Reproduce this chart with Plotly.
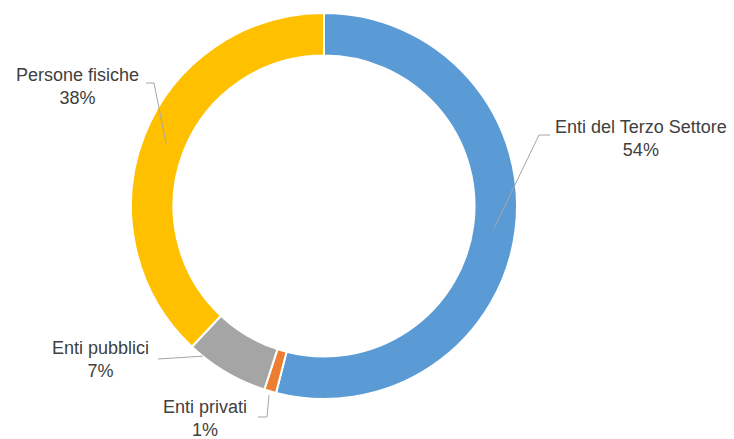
import math
import plotly.graph_objects as go

labels = ["Enti del Terzo Settore", "Enti privati", "Enti pubblici", "Persone fisiche"]
values = [54, 1, 7, 38]
pct_labels = ["54%", "1%", "7%", "38%"]
colors = ["#5B9BD5", "#ED7D31", "#A5A5A5", "#FFC000"]

W, H = 734, 439
cx, cy, R = 324, 206, 193
hole = 0.78

# label placement (pixel positions of text block centres, elbow, leader anchor)
text_pos = [(641, 138), (205, 418), (100, 359), (77, 86)]
line_start = [(550, 135), (258, 417), (158, 359), (146, 83)]
elbow = [(539, 135), (267, 417), None, (154, 83)]
anchor_frac = [0.5, 0.5, 0.83, 0.5]
anchor_rad = [0.89, 1.02, 1.0, 0.88]

def px(x):
    return x / W

def py(y):
    return 1 - y / H

fig = go.Figure(go.Pie(
    labels=labels, values=values, hole=hole, sort=False,
    direction="clockwise", rotation=0,
    marker=dict(colors=colors, line=dict(color="white", width=2)),
    textinfo="none", hoverinfo="label+percent",
    domain=dict(x=[px(cx - R), px(cx + R)], y=[py(cy + R), py(cy - R)]),
))

total = sum(values)
cum = 0
shapes = []
annotations = []
for i, v in enumerate(values):
    a0 = cum / total * 360
    a1 = (cum + v) / total * 360
    cum += v
    ang = math.radians(a0 + (a1 - a0) * anchor_frac[i])
    r = R * anchor_rad[i]
    ax_ = cx + r * math.sin(ang)
    ay_ = cy - r * math.cos(ang)
    pts = [line_start[i]]
    if elbow[i] is not None:
        pts.append(elbow[i])
    pts.append((ax_, ay_))
    path = "M " + " L ".join(f"{px(x):.5f},{py(y):.5f}" for x, y in pts)
    shapes.append(dict(type="path", path=path, xref="paper", yref="paper",
                       line=dict(color="#A6A6A6", width=1)))
    annotations.append(dict(
        x=px(text_pos[i][0]), y=py(text_pos[i][1]), xref="paper", yref="paper",
        text=f"{labels[i]}<br>{pct_labels[i]}", showarrow=False,
        xanchor="center", yanchor="middle", align="center",
        font=dict(family="Liberation Sans, Arial, sans-serif", size=18, color="#404040"),
    ))

fig.update_layout(
    width=W, height=H, margin=dict(l=0, r=0, t=0, b=0),
    paper_bgcolor="white", plot_bgcolor="white", showlegend=False,
    shapes=shapes, annotations=annotations,
)

fig.write_html("out.html", config={"displayModeBar": False},
               post_script="document.body.style.margin='0';")
